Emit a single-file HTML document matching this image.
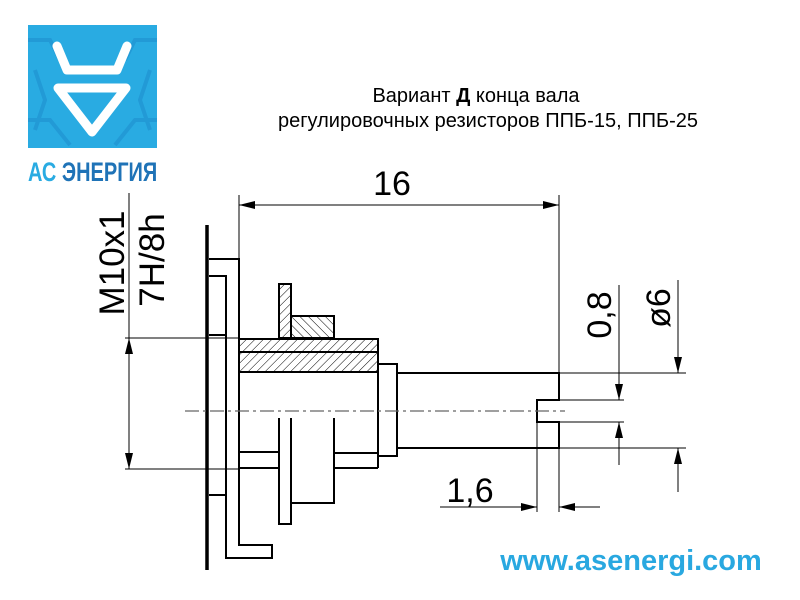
<!DOCTYPE html>
<html><head><meta charset="utf-8"><style>
html,body{margin:0;padding:0;background:#fff;width:800px;height:600px;overflow:hidden}
svg{display:block}
text{font-family:"Liberation Sans",sans-serif}
</style></head><body>
<svg width="800" height="600" viewBox="0 0 800 600" xmlns="http://www.w3.org/2000/svg">
<defs>
<pattern id="h" patternUnits="userSpaceOnUse" width="6" height="6" patternTransform="rotate(45)">
<line x1="0" y1="0" x2="0" y2="6" stroke="#000" stroke-width="1"/></pattern>
<pattern id="h2" patternUnits="userSpaceOnUse" width="6" height="6" patternTransform="rotate(-45)">
<line x1="0" y1="0" x2="0" y2="6" stroke="#000" stroke-width="1"/></pattern>
<marker id="a" viewBox="0 0 16 8" refX="16" refY="4" markerWidth="16" markerHeight="8" markerUnits="userSpaceOnUse" orient="auto-start-reverse"><path d="M0,0L16,4L0,8z" fill="#000"/></marker>
</defs>
<!-- logo -->
<rect x="28" y="25" width="129" height="123" fill="#29abe2"/>
<g fill="none" stroke="#1f8fcf" stroke-width="4" opacity="0.6">
<path d="M28,40 L50,40 L60,60"/><path d="M157,40 L135,40 L125,60"/>
<path d="M28,120 L50,120 L70,145"/><path d="M157,120 L135,120 L115,145"/>
<path d="M35,70 L45,100 L35,130"/><path d="M150,70 L140,100 L150,130"/>
</g>
<g fill="none" stroke="#fff" stroke-width="9" stroke-linejoin="round" stroke-linecap="round">
<path d="M57,46 L67,70 L117,70 L127,46"/>
<path d="M58,88 L126,88 L92,132 Z"/>
</g>
<text x="28" y="181" font-size="27" font-weight="bold" fill="#29abe2" transform="translate(28,0) scale(0.74,1) translate(-28,0)">АС <tspan fill="#1f73b7">ЭНЕРГИЯ</tspan></text>
<!-- title -->
<text x="476" y="102" font-size="20" text-anchor="middle">Вариант <tspan font-weight="bold">Д</tspan> конца вала</text>
<text x="488" y="127" font-size="20" text-anchor="middle">регулировочных резисторов ППБ-15, ППБ-25</text>
<!-- url -->
<text x="631" y="570" font-size="29" font-weight="bold" fill="#29a8e0" text-anchor="middle">www.asenergi.com</text>

<!-- hatched -->
<rect x="239" y="339" width="139" height="13" fill="url(#h)" stroke="#000" stroke-width="2"/>
<rect x="239" y="352" width="139" height="20" fill="url(#h)" stroke="#000" stroke-width="2"/>
<rect x="279" y="284" width="12" height="54" fill="url(#h)" stroke="#000" stroke-width="2"/>
<rect x="291" y="316" width="43" height="22" fill="url(#h2)" stroke="#000" stroke-width="2"/>

<g fill="none" stroke="#000" stroke-width="2">
<line x1="207" y1="225" x2="207" y2="570" stroke-width="3.5"/>
<path d="M209,259 H239 V545 H272 V558 H226 V276 H209"/>
<line x1="209" y1="335" x2="226" y2="335"/>
<line x1="209" y1="495" x2="226" y2="495"/>
<path d="M378,364 H397 V456 H378"/>
<path d="M397,373 H559 V400 H537 V422 H559 V448 H397"/>
<line x1="378" y1="372" x2="378" y2="468"/>
<line x1="239" y1="452" x2="279" y2="452"/>
<line x1="239" y1="468" x2="279" y2="468"/>
<path d="M279,418 V524 H291 V418"/>
<path d="M291,503 H334 V418"/>
<line x1="334" y1="453" x2="378" y2="453"/>
<line x1="334" y1="468" x2="378" y2="468"/>
</g>
<line x1="185" y1="411" x2="565" y2="411" stroke="#666" stroke-width="1.3" stroke-dasharray="14,4,3,4"/>

<!-- dims -->
<g stroke="#000" stroke-width="1" fill="none">
<line x1="239" y1="195" x2="239" y2="259"/>
<line x1="559" y1="195" x2="559" y2="373"/>
<line x1="239" y1="205" x2="559" y2="205" marker-start="url(#a)" marker-end="url(#a)"/>
<line x1="125" y1="338" x2="239" y2="338"/>
<line x1="125" y1="469" x2="239" y2="469"/>
<line x1="129" y1="193" x2="129" y2="338"/>
<line x1="129" y1="338" x2="129" y2="469" marker-start="url(#a)" marker-end="url(#a)"/>
<line x1="559" y1="373" x2="686" y2="373"/>
<line x1="559" y1="448" x2="686" y2="448"/>
<line x1="559" y1="400" x2="624" y2="400"/>
<line x1="559" y1="422" x2="624" y2="422"/>
<line x1="619" y1="285" x2="619" y2="400" marker-end="url(#a)"/>
<line x1="619" y1="465" x2="619" y2="422" marker-end="url(#a)"/>
<line x1="678" y1="280" x2="678" y2="373" marker-end="url(#a)"/>
<line x1="678" y1="492" x2="678" y2="448" marker-end="url(#a)"/>
<line x1="537" y1="422" x2="537" y2="512"/>
<line x1="559" y1="448" x2="559" y2="512"/>
<line x1="440" y1="507" x2="537" y2="507" marker-end="url(#a)"/>
<line x1="600" y1="507" x2="559" y2="507" marker-end="url(#a)"/>
</g>
<text x="392" y="195" font-size="34" text-anchor="middle">16</text>
<text x="470" y="502" font-size="34" text-anchor="middle">1,6</text>
<text transform="translate(124,263) rotate(-90)" font-size="35" text-anchor="middle">M10x1</text>
<text transform="translate(164,260) rotate(-90)" font-size="35" text-anchor="middle">7H/8h</text>
<text transform="translate(611,315) rotate(-90)" font-size="34" text-anchor="middle">0,8</text>
<text transform="translate(670,308) rotate(-90)" font-size="34" text-anchor="middle">ø6</text>
</svg>
</body></html>
